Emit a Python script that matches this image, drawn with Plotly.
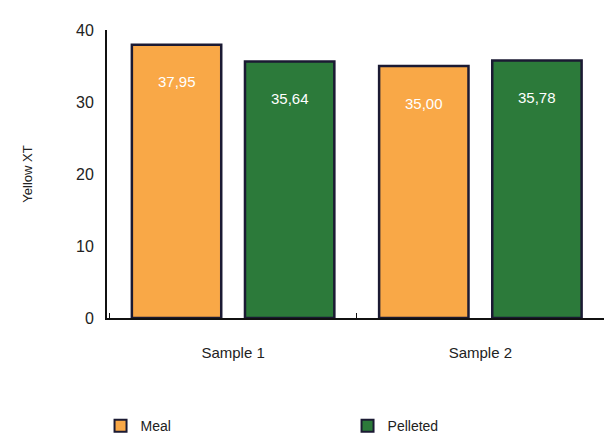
import plotly.graph_objects as go

samples = ["Sample 1", "Sample 2"]
meal = [37.95, 35.00]
pelleted = [35.64, 35.78]
y_ticks = [0, 10, 20, 30, 40]

ORANGE = "#F9A847"
GREEN = "#2C7A3A"
EDGE = "#1B1A33"
FONT = "Liberation Sans, Arial, sans-serif"

BARGAP = 0.085


def fmt(v):
    return f"{v:.2f}".replace(".", ",")


fig = go.Figure()
for name, vals, col in [("Meal", meal, ORANGE), ("Pelleted", pelleted, GREEN)]:
    fig.add_trace(go.Bar(
        name=name, x=samples, y=vals,
        marker=dict(color=col, line=dict(color=EDGE, width=2.5)),
        hoverinfo="skip",
    ))

# value labels placed a little below each bar top, centred on each bar
half = (1 - BARGAP) / 4
offsets = {"Meal": -half, "Pelleted": half}
for name, vals in [("Meal", meal), ("Pelleted", pelleted)]:
    for i, v in enumerate(vals):
        fig.add_annotation(
            x=i + offsets[name], y=v, xref="x", yref="y",
            text=fmt(v), showarrow=False, yshift=-37,
            font=dict(family=FONT, size=15, color="white"),
        )

fig.update_layout(
    width=604, height=442,
    margin=dict(l=107, r=0, t=30, b=124, autoexpand=False),
    paper_bgcolor="white", plot_bgcolor="white",
    barmode="group", bargap=BARGAP, bargroupgap=0.21,
    font=dict(family=FONT, size=15, color="#222"),
    showlegend=True,
    legend=dict(
        orientation="h", x=-0.013, y=-0.32, xanchor="left", yanchor="top",
        entrywidth=202, font=dict(size=14, color="#222"),
        itemsizing="constant",
    ),
    xaxis=dict(
        type="category", range=[-0.51, 1.5],
        showline=True, linecolor="#111", linewidth=2,
        ticks="inside", tickson="boundaries", ticklen=5, tickcolor="#111",
        tickfont=dict(size=15, color="#222"), showgrid=False,
        ticklabelstandoff=20,
    ),
    yaxis=dict(
        range=[0, 40], tickvals=y_ticks,
        showline=True, linecolor="#111", linewidth=2,
        showgrid=False, zeroline=False, ticks="",
        tickfont=dict(size=16, color="#222"), ticklabelstandoff=8,
        title=dict(text="Yellow XT", font=dict(size=13, color="#222"), standoff=40),
    ),
)

fig.write_html("out.html")
